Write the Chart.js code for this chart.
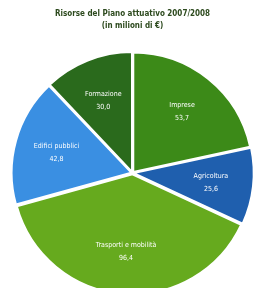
<!DOCTYPE html>
<html>
<head>
<meta charset="utf-8">
<script src="https://cdn.jsdelivr.net/npm/chart.js@4/dist/chart.umd.min.js"></script>
<style>
html,body{margin:0;padding:0;background:#fff;overflow:hidden;}
#wrap{width:265px;height:288px;position:relative;overflow:hidden;}
</style>
</head>
<body>
<div id="wrap"><canvas id="c" width="265" height="296"></canvas></div>
<script>
const categories = ["Imprese", "Agricoltura", "Trasporti e mobilità", "Edifici pubblici", "Formazione"];
const values = [53.7, 25.6, 96.4, 42.8, 30.0];
const colors = ["#3c8a18", "#1f5fae", "#66aa1e", "#3a8fe2", "#2a6a1c"];
const titleLines = ["Risorse del Piano attuativo 2007/2008", "(in milioni di €)"];

const labelPlugin = {
  id: 'sliceLabels',
  afterDatasetsDraw(chart) {
    const ctx = chart.ctx;
    const meta = chart.getDatasetMeta(0);
    ctx.save();
    ctx.fillStyle = '#ffffff';
    ctx.textAlign = 'center';
    ctx.textBaseline = 'middle';
    ctx.font = '7px "DejaVu Sans Condensed", "Liberation Sans Narrow", sans-serif';
    meta.data.forEach((arc, i) => {
      const p = arc.getProps(['x', 'y', 'startAngle', 'endAngle', 'outerRadius'], true);
      const a = (p.startAngle + p.endAngle) / 2;
      const r = p.outerRadius * 0.66;
      const x = p.x + Math.cos(a) * r;
      const y = p.y + Math.sin(a) * r;
      ctx.fillText(categories[i], x, y - 6);
      ctx.fillText(values[i].toFixed(1).replace('.', ','), x, y + 7);
    });
    ctx.restore();
  }
};

new Chart(document.getElementById('c'), {
  type: 'pie',
  data: {
    labels: categories,
    datasets: [{
      data: values,
      backgroundColor: colors,
      borderColor: '#ffffff',
      borderWidth: 2,
      offset: 5
    }]
  },
  options: {
    responsive: false,
    animation: false,
    layout: { padding: { top: 0, bottom: 0, left: 0, right: 0 } },
    plugins: {
      legend: { display: false },
      tooltip: { enabled: false },
      title: {
        display: true,
        text: titleLines,
        color: '#2d4a1e',
        font: { size: 8, weight: 'bold', family: '"DejaVu Sans Condensed", "Liberation Sans Narrow", sans-serif', lineHeight: 1.5 },
        padding: { top: 8, bottom: 18 }
      }
    }
  },
  plugins: [labelPlugin]
});
</script>
</body>
</html>
